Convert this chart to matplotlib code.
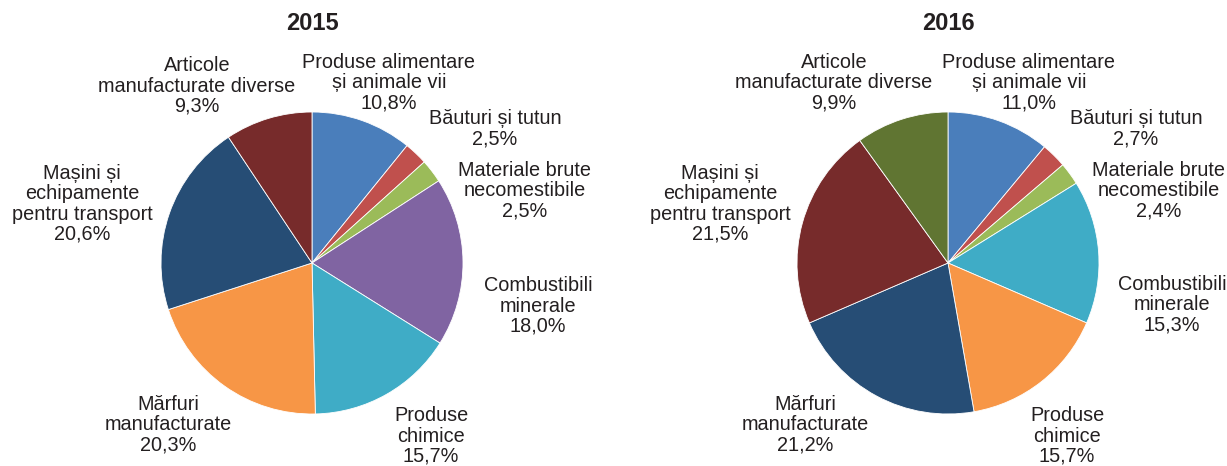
import matplotlib.pyplot as plt

plt.rcParams['font.family'] = ['Liberation Sans', 'DejaVu Sans']

# date
categorii = ['Produse alimentare\nși animale vii', 'Băuturi și tutun',
             'Materiale brute\nnecomestibile', 'Combustibili\nminerale',
             'Produse\nchimice', 'Mărfuri\nmanufacturate',
             'Mașini și\nechipamente\npentru transport',
             'Articole\nmanufacturate diverse']
val_2015 = [10.8, 2.5, 2.5, 18.0, 15.7, 20.3, 20.6, 9.3]
val_2016 = [11.0, 2.7, 2.4, 15.3, 15.7, 21.2, 21.5, 9.9]

culori_2015 = ['#4a7ebb', '#c0504d', '#9bbb59', '#8064a2', '#3facc6',
               '#f79646', '#264d75', '#772b2b']
culori_2016 = ['#4a7ebb', '#c0504d', '#9bbb59', '#3facc6', '#f79646',
               '#264d75', '#772b2b', '#607532']

# pozitii etichete (pixeli, de sus in jos)
poz_2015 = [(389, 83), (495, 129), (525, 191), (538, 306),
            (431, 436), (168, 425), (82, 204), (197, 86)]
poz_2016 = [(1029, 83), (1136, 129), (1159, 191), (1172, 305),
            (1067, 436), (805, 425), (720, 204), (834, 83)]

W, H = 1227, 466
fig = plt.figure(figsize=(W / 100, H / 100), dpi=100)
ax = fig.add_axes([0, 0, 1, 1])


def fmt(v):
    return f'{v:.1f}'.replace('.', ',') + '%'


def desen(vals, culori, poz, cx, titlu):
    ax.pie(vals, colors=culori, startangle=90, counterclock=False,
           center=(cx, H - 263), radius=151,
           wedgeprops=dict(edgecolor='white', linewidth=0.6))
    for cat, v, (x, y) in zip(categorii, vals, poz):
        ax.text(x, H - y, cat + '\n' + fmt(v), ha='center', va='center',
                multialignment='center', fontsize=14.3, color='#231f20',
                linespacing=1.08)
    ax.text(cx, H - 23, titlu, ha='center', va='center', fontsize=17,
            fontweight='bold', color='#231f20')


desen(val_2015, culori_2015, poz_2015, 312, '2015')
desen(val_2016, culori_2016, poz_2016, 948, '2016')

ax.set_xlim(0, W)
ax.set_ylim(0, H)
ax.set_aspect('equal')
ax.axis('off')

fig.savefig('out.png', dpi=100, facecolor='white')
